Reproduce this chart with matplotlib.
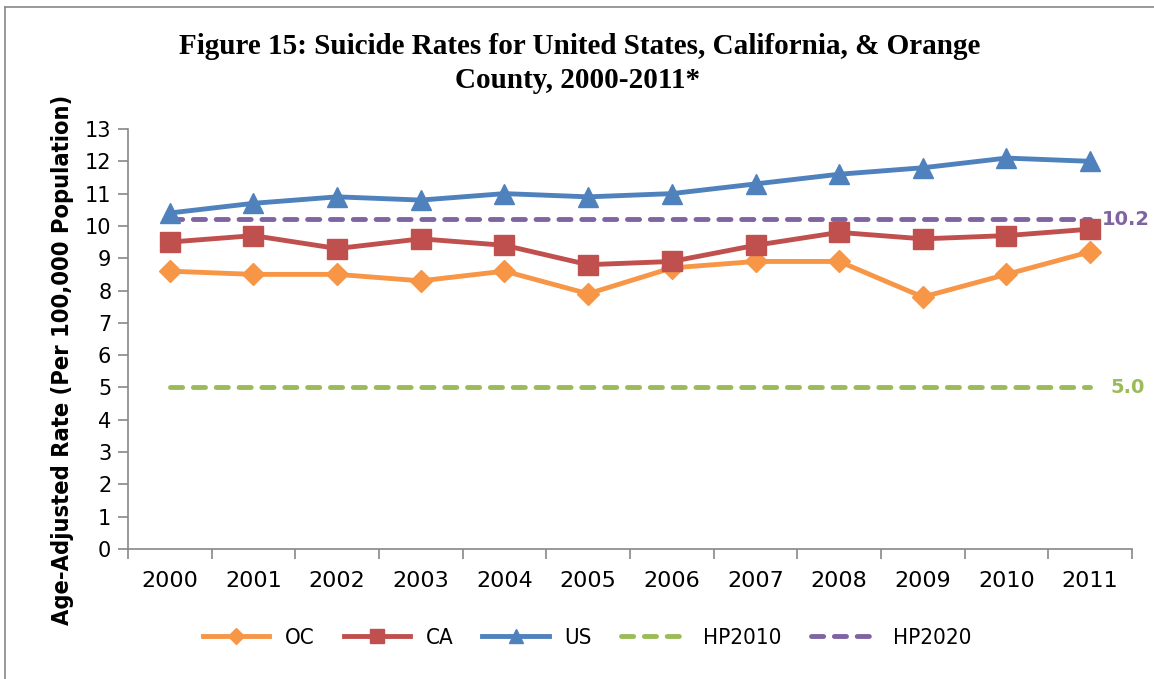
import matplotlib
matplotlib.use("Agg")
import matplotlib.pyplot as plt
from matplotlib.lines import Line2D

years = ["2000", "2001", "2002", "2003", "2004", "2005",
         "2006", "2007", "2008", "2009", "2010", "2011"]
oc = [8.6, 8.5, 8.5, 8.3, 8.6, 7.9, 8.7, 8.9, 8.9, 7.8, 8.5, 9.2]
ca = [9.5, 9.7, 9.3, 9.6, 9.4, 8.8, 8.9, 9.4, 9.8, 9.6, 9.7, 9.9]
us = [10.4, 10.7, 10.9, 10.8, 11.0, 10.9, 11.0, 11.3, 11.6, 11.8, 12.1, 12.0]
hp2010 = [5.0] * len(years)
hp2020 = [10.2] * len(years)

C_OC = "#F79646"
C_CA = "#C0504D"
C_US = "#4F81BD"
C_HP10 = "#9BBB59"
C_HP20 = "#8064A2"
GRID = "#888888"

W, H = 1154, 679
fig = plt.figure(figsize=(W / 100, H / 100), dpi=100)

# frame of the chart area (left and top edges visible in the source)
fig.add_artist(Line2D([5 / W, 5 / W], [0, 1 - 7 / H], transform=fig.transFigure,
                      color=GRID, lw=1.2))
fig.add_artist(Line2D([5 / W, 1], [1 - 7 / H, 1 - 7 / H], transform=fig.transFigure,
                      color=GRID, lw=1.2))

ax = fig.add_axes([128 / W, 1 - 549 / H, 1004 / W, 420 / H])
x = list(range(len(years)))

dash = (0, (2.5, 2.2))
ax.plot(x, hp2010, color=C_HP10, lw=3.5, linestyle=dash, dash_capstyle="round",
        label="HP2010", zorder=2)
ax.plot(x, hp2020, color=C_HP20, lw=3.5, linestyle=dash, dash_capstyle="round",
        label="HP2020", zorder=2)
ax.plot(x, oc, color=C_OC, lw=3.5, marker="D", ms=11, label="OC", zorder=3)
ax.plot(x, ca, color=C_CA, lw=3.5, marker="s", ms=14, label="CA", zorder=3)
ax.plot(x, us, color=C_US, lw=3.5, marker="^", ms=14, label="US", zorder=3)

ax.text(x[-1] + 0.14, hp2020[-1], f"{hp2020[-1]:.1f}", color=C_HP20, fontsize=14,
        fontweight="bold", va="center", ha="left")
ax.text(x[-1] + 0.24, hp2010[-1], f"{hp2010[-1]:.1f}", color=C_HP10, fontsize=14,
        fontweight="bold", va="center", ha="left")

ax.set_xlim(-0.5, len(years) - 0.5)
ax.set_ylim(0, 13)
ax.set_yticks(range(0, 14))
ax.set_xticks(x)
ax.set_xticklabels(years)
ax.set_xticks([i - 0.5 for i in range(len(years) + 1)], minor=True)
ax.tick_params(axis="x", which="major", length=0, pad=16, labelsize=16)
ax.tick_params(axis="x", which="minor", length=7, direction="out", color=GRID, width=1.2)
ax.tick_params(axis="y", length=7, direction="out", color=GRID, width=1.2, labelsize=15, pad=5)
for s in ["top", "right"]:
    ax.spines[s].set_visible(False)
for s in ["left", "bottom"]:
    ax.spines[s].set_color(GRID)
    ax.spines[s].set_linewidth(1.2)

# y label placed by hand, sized so it spans the same height as the source
ylab = fig.text(63 / W, 1 - 360 / H, "Age-Adjusted Rate (Per 100,000 Population)",
                rotation=90, ha="center", va="center", fontsize=16, fontweight="bold",
                fontstretch="condensed")
rend = fig.canvas.get_renderer()
span = ylab.get_window_extent(rend).height
ylab.set_fontsize(16 * 530 / span)

fig.text(580 / W, 1 - 47 / H, "Figure 15: Suicide Rates for United States, California, & Orange",
         ha="center", va="center", fontsize=21, fontweight="bold", family="Liberation Serif")
fig.text(578 / W, 1 - 80 / H, "County, 2000-2011*",
         ha="center", va="center", fontsize=21, fontweight="bold", family="Liberation Serif")

handles, labels = ax.get_legend_handles_labels()
order = [2, 3, 4, 0, 1]
fig.legend([handles[i] for i in order], [labels[i] for i in order],
           loc="center", bbox_to_anchor=(587 / W, 1 - 638 / H), ncol=5, frameon=False,
           handlelength=3.0, columnspacing=1.3, handletextpad=0.7, markerscale=0.75,
           prop={"size": 16, "stretch": "condensed"})

fig.savefig("out.png", dpi=100)
